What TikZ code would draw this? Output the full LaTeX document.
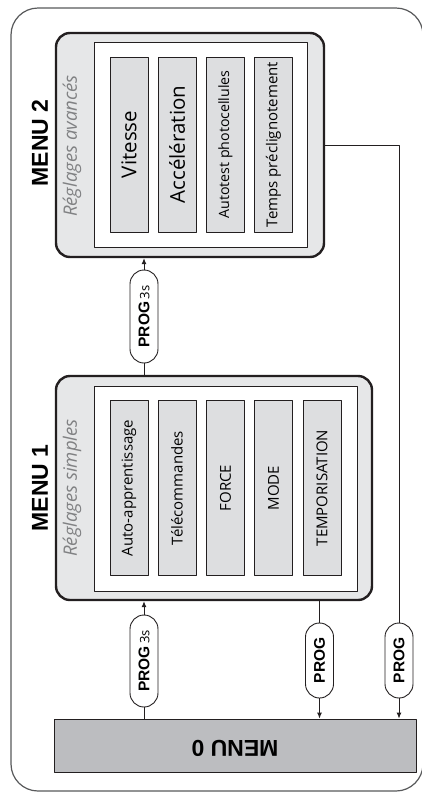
\documentclass[tikz,border=0pt]{standalone}
\usepackage{fontspec}
\setmainfont{Open Sans}
\newfontfamily\headfont{Liberation Sans}
\usetikzlibrary{shapes.misc,arrows.meta}

\definecolor{panelgray}{HTML}{E6E7E8}
\definecolor{stripgray}{HTML}{DDDEE0}
\definecolor{basegray}{HTML}{BCBDC0}
\definecolor{framegray}{HTML}{58595B}
\definecolor{inkgray}{HTML}{231F20}
\definecolor{titlegray}{HTML}{808183}

\begin{document}
\begin{tikzpicture}[x=1pt, y=-1pt, >={Latex[length=6pt,width=5pt]}, line join=round]

% --- Styles ---
\tikzset{
    outerframe/.style={
        draw=framegray,
        line width=1.2pt,
        rounded corners=27pt
    },
    menupanel/.style={
        draw=inkgray,
        fill=panelgray,
        line width=2.4pt,
        rounded corners=14pt,
        inner sep=0pt
    },
    innerpanel/.style={
        draw=inkgray,
        fill=white,
        line width=0.9pt,
        inner sep=0pt
    },
    strip/.style={
        draw=inkgray,
        fill=stripgray,
        line width=0.9pt,
        minimum width=175pt,
        minimum height=38pt,
        inner sep=0pt,
        rotate=90
    },
    basepanel/.style={
        draw=inkgray,
        fill=basegray,
        line width=0.9pt,
        inner sep=0pt
    },
    headtitle/.style={
        font=\headfont\bfseries\fontsize{23}{23}\selectfont,
        text=black
    },
    subtitle/.style={
        font=\itshape\fontsize{18.5}{18.5}\selectfont,
        text=titlegray,
        rotate=90
    },
    pill/.style={
        rounded rectangle,
        draw=inkgray,
        fill=white,
        line width=0.9pt,
        minimum height=28pt,
        inner sep=0pt,
        rotate=90
    },
    flow/.style={
        ->,
        draw=inkgray,
        line width=0.9pt
    }
}

\useasboundingbox (0,0) rectangle (421,793);

% --- Cadre exterieur ---
\draw[outerframe] (11,8) rectangle (423,791);

% =========================================================================
% --- MENU 2 ---
% =========================================================================
\node[menupanel, minimum width=268pt, minimum height=224pt] (menutwo) at (190,145) {};
\node[innerpanel, minimum width=213pt, minimum height=205pt] (innertwo) at (200.5,144.5) {};

\foreach \xs/\fs/\txt [count=\i] in {
    129/20.5/Vitesse,
    177/20.5/Accélération,
    225.5/14.2/Autotest photocellules,
    273.5/15/Temps préclignotement}
{
    \node[strip] (striptwo\i) at (\xs,144.5) {\fontsize{\fs}{\fs}\selectfont\txt};
}

\node[headtitle, rotate=90] (titletwo) at (40,143) {MENU 2};
\node[subtitle] (subtwo) at (72,146) {Réglages avancés};

% =========================================================================
% --- MENU 1 ---
% =========================================================================
\node[menupanel, minimum width=316pt, minimum height=224pt] (menuone) at (214,488) {};
\node[innerpanel, minimum width=263pt, minimum height=205pt] (innerone) at (225.5,488.5) {};

\foreach \xs/\txt [count=\i] in {
    129/Auto-apprentissage,
    177/Télécommandes,
    225.5/FORCE,
    273.5/MODE,
    322/TEMPORISATION}
{
    \node[strip] (stripone\i) at (\xs,488) {\fontsize{15}{15}\selectfont\txt};
}

\node[headtitle, rotate=90] (titleone) at (40,488) {MENU 1};
\node[subtitle] (subone) at (72,488) {Réglages simples};

% =========================================================================
% --- MENU 0 ---
% =========================================================================
\node[basepanel, minimum width=362pt, minimum height=53pt] (menuzero) at (235,745.5) {};
\node[headtitle, rotate=180] (titlezero) at (235,748) {MENU 0};

% --- Boutons PROG ---
\node[pill, minimum width=92pt] (progup) at (144,661)
    {\headfont\bfseries\fontsize{15.5}{15.5}\selectfont PROG\,\normalfont\fontsize{13}{13}\selectfont 3s};
\node[pill, minimum width=93pt] (progtwo) at (144,316.5)
    {\headfont\bfseries\fontsize{15.5}{15.5}\selectfont PROG\,\normalfont\fontsize{13}{13}\selectfont 3s};
\node[pill, minimum width=75pt] (progback) at (319.5,660.5)
    {\headfont\bfseries\fontsize{15.5}{15.5}\selectfont PROG};
\node[pill, minimum width=75pt] (progexit) at (399,660.5)
    {\headfont\bfseries\fontsize{15.5}{15.5}\selectfont PROG};

% --- Liaisons ---
\draw[flow, -] (progup.west |- menuzero.north) -- (progup.west);
\draw[flow] (progup.east) -- (progup.east |- menuone.south);

\draw[flow, -] (progtwo.west |- menuone.north) -- (progtwo.west);
\draw[flow] (progtwo.east) -- (progtwo.east |- menutwo.south);

\draw[flow, -] (progback.east |- menuone.south) -- (progback.east);
\draw[flow] (progback.west) -- (progback.west |- menuzero.north);

\draw[flow, -] (menutwo.east) -- (menutwo.east -| progexit.east) -- (progexit.east);
\draw[flow] (progexit.west) -- (progexit.west |- menuzero.north);

\end{tikzpicture}
\end{document}
